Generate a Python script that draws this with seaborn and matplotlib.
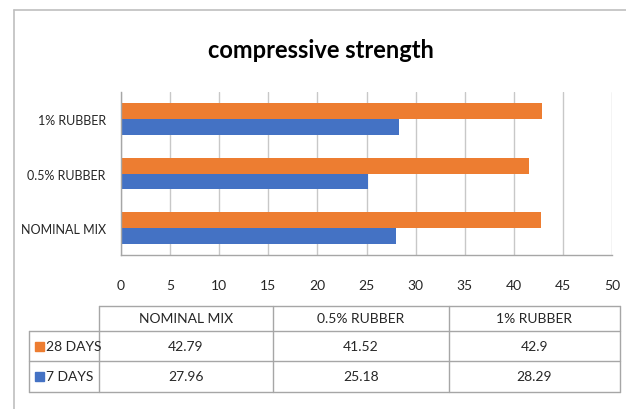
import numpy as np
import pandas as pd
import seaborn as sns
import matplotlib.pyplot as plt
from matplotlib.lines import Line2D
from matplotlib.patches import Rectangle

categories = ["NOMINAL MIX", "0.5% RUBBER", "1% RUBBER"]
series = ["28 DAYS", "7 DAYS"]
days28 = [42.79, 41.52, 42.9]
days7 = [27.96, 25.18, 28.29]
days28_txt = ["42.79", "41.52", "42.9"]
days7_txt = ["27.96", "25.18", "28.29"]
colors = ["#ED7D31", "#4472C4"]

df = pd.DataFrame({
    "mix": categories * 2,
    "age": np.repeat(series, 3),
    "strength": days28 + days7,
})

sns.set_theme(style="white")
plt.rcParams["font.family"] = ["Lato", "DejaVu Sans"]

fig = plt.figure(figsize=(6.26, 4.10), dpi=100)
W, H = 626, 410

def fx(px):
    return px / W

def fy(py):
    return 1 - py / H

ax = fig.add_axes([fx(121), fy(256), fx(612) - fx(121), fy(93) - fy(256)])
sns.barplot(data=df, y="mix", x="strength", hue="age",
            order=categories[::-1], hue_order=series, palette=colors,
            orient="h", width=0.58, gap=0, saturation=1, linewidth=0,
            ax=ax, legend=False)
ax.set_xlim(0, 50)
ax.set_xticks(np.arange(0, 51, 5))
ax.set_ylim(2.5, -0.5)
ax.grid(axis="x", color="#C8C8C8", linewidth=1)
ax.set_axisbelow(True)
ax.set_xlabel("")
ax.set_ylabel("")
for s in ["top", "right"]:
    ax.spines[s].set_visible(False)
for s in ["left", "bottom"]:
    ax.spines[s].set_color("#A6A6A6")
    ax.spines[s].set_linewidth(1)
ax.tick_params(axis="both", length=0, labelsize=10, colors="#262626")
ax.tick_params(axis="x", pad=17)
ax.tick_params(axis="y", pad=11, labelsize=9)

fig.text(fx(321), fy(50), "compressive strength", ha="center", va="center",
         fontsize=17, fontweight="bold", color="black")

# chart frame
fig.add_artist(Line2D([fx(14), fx(14)], [fy(11), 0], color="#BFBFBF", lw=1.2))
fig.add_artist(Line2D([fx(14), 1], [fy(11), fy(11)], color="#BFBFBF", lw=1.2))

# data table
tab = fig.add_axes([0, 0, 1, 1])
tab.set_xlim(0, W)
tab.set_ylim(H, 0)
tab.axis("off")
col_x = [29, 99, 273, 449, 620]
row_y = [307, 332, 362, 393]
lc = "#A6A6A6"
tab.plot([col_x[1], col_x[-1]], [row_y[0], row_y[0]], color=lc, lw=1)
for yy in row_y[1:]:
    tab.plot([col_x[0], col_x[-1]], [yy, yy], color=lc, lw=1)
tab.plot([col_x[0], col_x[0]], [row_y[1], row_y[-1]], color=lc, lw=1)
for xx in col_x[1:]:
    tab.plot([xx, xx], [row_y[0], row_y[-1]], color=lc, lw=1)

for i, name in enumerate(categories):
    tab.text((col_x[i + 1] + col_x[i + 2]) / 2, (row_y[0] + row_y[1]) / 2, name,
             ha="center", va="center", fontsize=10, color="#262626")
rows = [days28_txt, days7_txt]
for r, (label, vals, c) in enumerate(zip(series, rows, colors)):
    yc = (row_y[r + 1] + row_y[r + 2]) / 2
    tab.add_patch(Rectangle((35, yc - 4.5), 9, 9, color=c))
    tab.text(46, yc, label, ha="left", va="center", fontsize=10, color="#262626")
    for i, v in enumerate(vals):
        tab.text((col_x[i + 1] + col_x[i + 2]) / 2, yc, v, ha="center", va="center",
                 fontsize=10, color="#262626")

fig.savefig("out.png", dpi=100, facecolor="white")
